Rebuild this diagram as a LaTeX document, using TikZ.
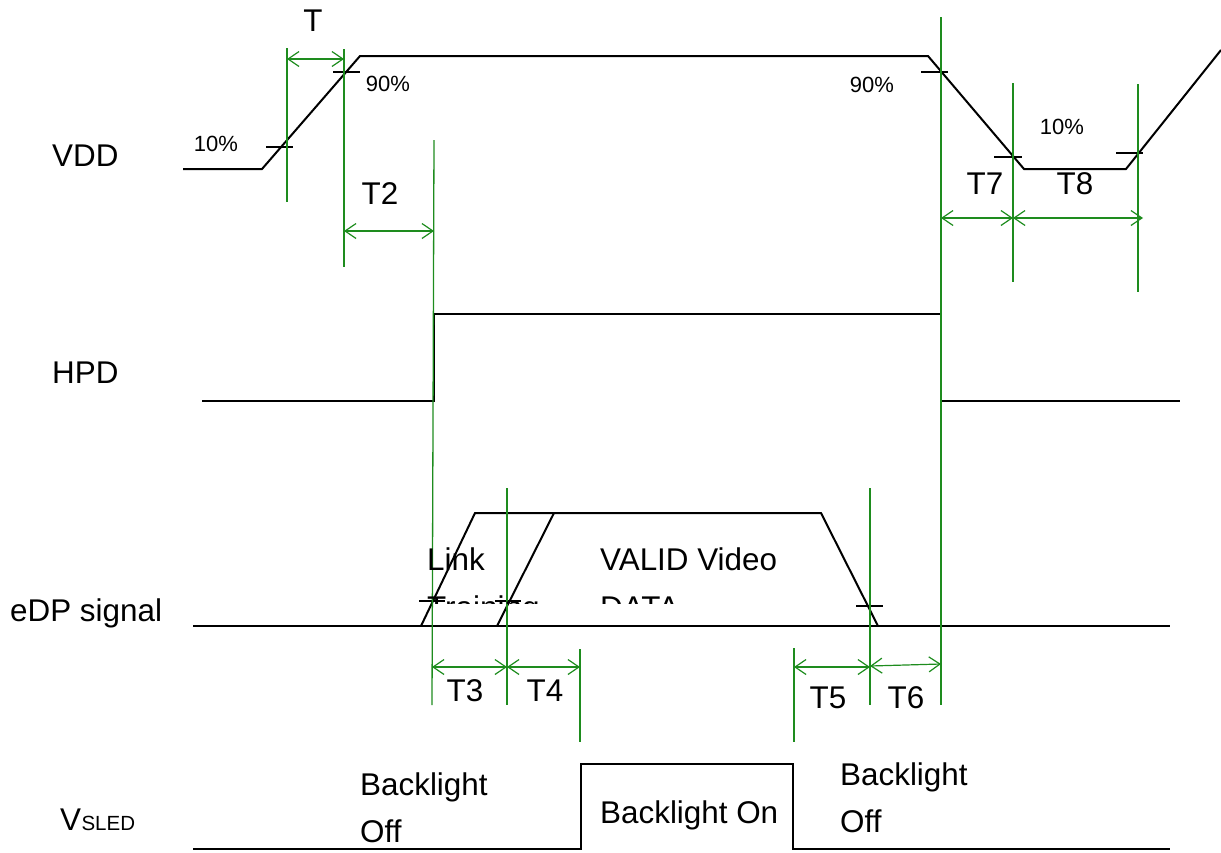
\documentclass[tikz,border=0pt]{standalone}
\usepackage{fontspec}
\setmainfont{Liberation Sans}
\usetikzlibrary{arrows.meta}
\definecolor{gline}{RGB}{30,140,30}
\begin{document}
\begin{tikzpicture}[x=1pt,y=-1pt,
  sig/.style={line width=2pt, black, line join=miter},
  tickmark/.style={line width=1.8pt, black},
  guide/.style={line width=1.3pt, draw=gline},
  dim/.style={line width=1.2pt, draw=gline, {Straight Barb[length=11pt,width=15pt]}-{Straight Barb[length=11pt,width=15pt]}},
  big/.style={font=\fontsize{31.4}{37}\selectfont, inner sep=0pt},
  small/.style={font=\fontsize{22}{26}\selectfont, inner sep=0pt}]
\useasboundingbox (0,0) rectangle (1221,852);

% ---------- signal names ----------
\node[big, anchor=base west] (lvdd) at (52,166) {VDD};
\node[big, anchor=base west] (lhpd) at (52,383) {HPD};
\node[big, anchor=base west] (ledp) at (10,621) {eDP signal};
\node[big, anchor=base west] (lv) at (60,830) {V};
\node[font=\fontsize{20.5}{24}\selectfont, inner sep=0pt, anchor=base west] (lsled) at (lv.base east) {SLED};

% ---------- waveforms ----------
\draw[sig] (183,169) coordinate (v0) -- (262,169) coordinate (v1) -- (360,56) coordinate (v2)
  -- (928,56) coordinate (v3) -- (1024,169) coordinate (v4) -- (1126,169) coordinate (v5) -- (1221,50) coordinate (v6);
\draw[sig] (202,401) coordinate (h0) -- (434,401) coordinate (h1) -- (434,314) coordinate (h2)
  -- (941,314) coordinate (h3) -- (941,401) coordinate (h4) -- (1180,401) coordinate (h5);
\draw[sig] (193,626) coordinate (e0) -- (1170,626) coordinate (e1);
\draw[sig] (421,626) coordinate (e2) -- (475,513) coordinate (e3) -- (821,513) coordinate (e4) -- (878,626) coordinate (e5);
\draw[sig] (497,626) coordinate (e6) -- (554,513) coordinate (e7);
\draw[sig] (193,849) coordinate (s0) -- (581,849) coordinate (s1) -- (581,764) coordinate (s2)
  -- (793,764) coordinate (s3) -- (793,849) coordinate (s4) -- (1170,849) coordinate (s5);

% ---------- tick marks ----------
\draw[tickmark] (266,147) -- (293,147);
\draw[tickmark] (333,72) -- (360,72);
\draw[tickmark] (921,72) -- (948,72);
\draw[tickmark] (994,157) -- (1022,157);
\draw[tickmark] (1116,153) -- (1143,153);
\draw[tickmark] (419,601) -- (445,601);
\draw[tickmark] (495,601) -- (521,601);
\draw[tickmark] (856,606) -- (883,606);

% ---------- green guide lines ----------
\draw[guide] (287,48) coordinate (g1t) -- (287,202) coordinate (g1b);
\draw[guide] (344,49) coordinate (g2t) -- (344,267) coordinate (g2b);
\draw[guide] (434,140) coordinate (g3t) -- (432,705) coordinate (g3b);
\draw[guide] (941,17) coordinate (g4t) -- (941,705) coordinate (g4b);
\draw[guide] (1013,83) coordinate (g5t) -- (1013,282) coordinate (g5b);
\draw[guide] (1138,84) coordinate (g6t) -- (1138,292) coordinate (g6b);
\draw[guide] (507,488) coordinate (g7t) -- (507,705) coordinate (g7b);
\draw[guide] (580,649) coordinate (g8t) -- (580,742) coordinate (g8b);
\draw[guide] (794,648) coordinate (g9t) -- (794,742) coordinate (g9b);
\draw[guide] (870,488) coordinate (g10t) -- (870,705) coordinate (g10b);

% ---------- dimension arrows ----------
\coordinate (aT1) at (287,59);   \coordinate (aT2) at (344,59);
\coordinate (aT21) at (344,231); \coordinate (aT22) at (434,231);
\coordinate (aT71) at (941,218); \coordinate (aT72) at (1013,218);
\coordinate (aT81) at (1013,218); \coordinate (aT82) at (1143,218);
\coordinate (aT31) at (432,667); \coordinate (aT32) at (507,667);
\coordinate (aT41) at (507,667); \coordinate (aT42) at (580,667);
\coordinate (aT51) at (794,667); \coordinate (aT52) at (870,667);
\coordinate (aT61) at (870,666); \coordinate (aT62) at (941,664);
\draw[dim] (aT1) -- (aT2);
\draw[dim] (aT21) -- (aT22);
\draw[dim] (aT71) -- (aT72);
\draw[dim] (aT81) -- (aT82);
\draw[dim] (aT31) -- (aT32);
\draw[dim] (aT41) -- (aT42);
\draw[dim] (aT51) -- (aT52);
\draw[dim] (aT61) -- (aT62);

% ---------- timing labels ----------
\node[big, anchor=base] (tT) at (313,31) {T};
\node[big, anchor=base] (tT2) at (380,204) {T2};
\node[big, anchor=base] (tT7) at (985,194) {T7};
\node[big, anchor=base] (tT8) at (1075,194) {T8};
\node[big, anchor=base] (tT3) at (465,701) {T3};
\node[big, anchor=base] (tT4) at (545,701) {T4};
\node[big, anchor=base] (tT5) at (828,708) {T5};
\node[big, anchor=base] (tT6) at (906,708) {T6};

\node[small, anchor=base] (p10a) at (216,151) {10\%};
\node[small, anchor=base] (p90a) at (388,91) {90\%};
\node[small, anchor=base] (p90b) at (872,92) {90\%};
\node[small, anchor=base] (p10b) at (1062,134) {10\%};

% ---------- eDP texts (clipped second line) ----------
\begin{scope}
  \clip (380,520) rectangle (850,603);
  \node[big, anchor=base west] (tlink) at (427,570) {Link};
  \node[big, anchor=base west] (ttrain) at (427,618) {Training};
  \node[big, anchor=base west] (tvalid) at (600,570) {VALID Video};
  \node[big, anchor=base west] (tdata) at (600,618) {DATA};
\end{scope}

% ---------- backlight texts ----------
\node[big, anchor=base west] (bl1) at (360,795) {Backlight};
\node[big, anchor=base west] (bl1o) at (360,842) {Off};
\node[big, anchor=base west] (blon) at (600,823) {Backlight On};
\node[big, anchor=base west] (bl2) at (840,785) {Backlight};
\node[big, anchor=base west] (bl2o) at (840,832) {Off};
\end{tikzpicture}
\end{document}
